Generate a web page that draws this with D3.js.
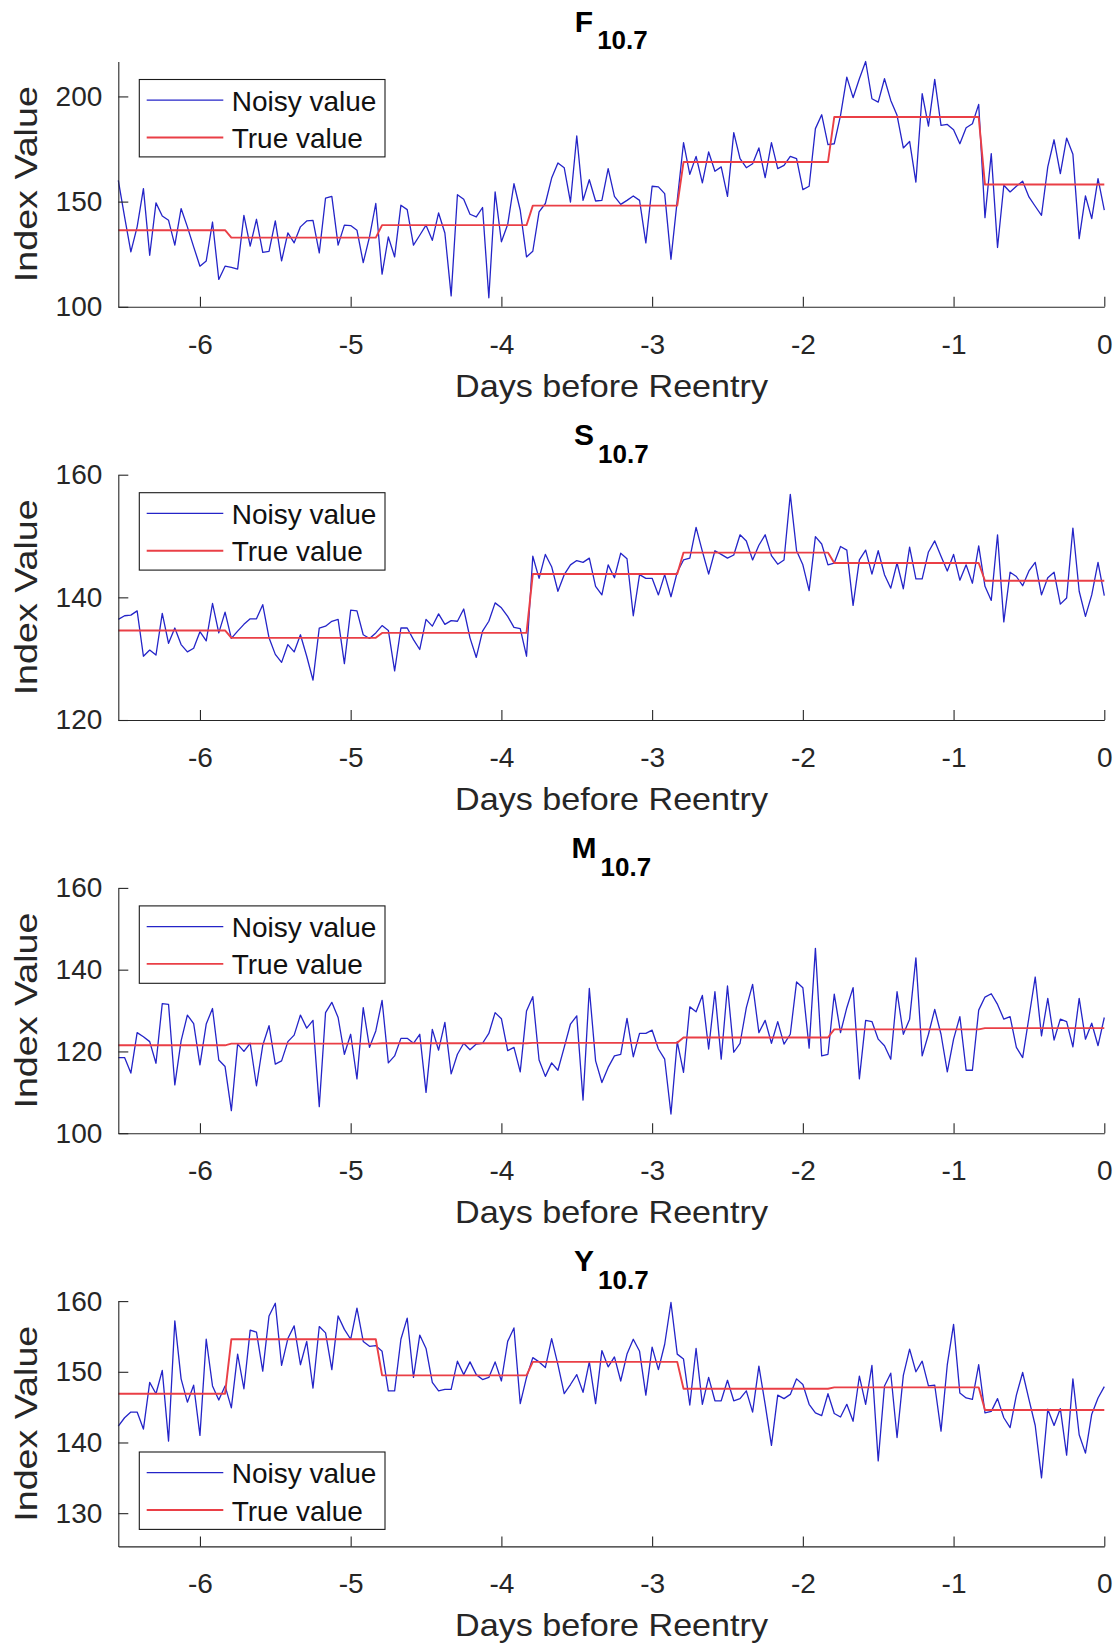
<!DOCTYPE html>
<html><head><meta charset="utf-8">
<script src="https://cdn.jsdelivr.net/npm/d3@7"></script>
<style>
body{margin:0;background:#fff;}
svg text{font-family:"Liberation Sans",Arial,Helvetica,sans-serif;}
</style></head><body>
<svg id="chart" width="1119" height="1646"></svg>
<script>
// hourly samples, hours before reentry
const hoursBeforeReentry = d3.range(-157, 1);

const f107Noisy = [
160.1,142.7,126.1,138.0,156.2,124.5,149.4,143.2,141.1,129.3,
146.7,138.0,128.5,119.3,121.8,140.3,113.0,119.3,118.7,117.9,
143.5,128.8,141.6,125.9,126.3,140.8,121.8,135.1,130.4,138.0,
140.8,141.1,125.6,151.7,152.5,129.3,138.8,138.6,136.4,121.0,
133.2,149.1,115.5,133.2,123.7,148.3,146.2,129.3,134.0,138.8,
131.6,144.6,135.1,105.2,153.3,151.1,144.0,142.7,147.2,104.3,
154.6,130.9,139.1,158.5,145.9,123.7,126.4,145.1,149.1,161.2,
168.4,166.1,149.8,181.2,150.6,160.4,150.3,150.6,165.7,152.5,
148.7,150.6,152.7,150.6,130.4,157.3,157.0,153.8,122.6,150.6,
178.0,163.0,171.5,158.9,173.6,164.4,166.5,152.5,182.8,170.4,
166.1,168.0,175.5,161.4,178.0,165.7,167.2,171.5,170.4,155.7,
157.3,184.7,191.3,177.1,177.5,191.0,209.2,199.4,208.4,216.6,
198.9,197.3,208.4,198.1,191.0,175.5,178.6,159.3,201.3,185.9,
208.1,186.2,186.7,184.2,177.5,185.1,187.0,196.2,142.4,172.8,
128.2,157.8,154.6,157.3,159.7,152.2,147.8,143.5,166.5,179.4,
163.3,180.2,172.5,132.4,152.7,141.9,160.9,146.0];

const s107Noisy = [
136.4,137.0,137.1,137.8,130.4,131.4,130.6,137.4,132.5,135.0,
132.3,131.1,131.7,134.4,132.9,139.0,134.2,137.6,133.3,134.5,
135.6,136.5,136.5,138.8,133.4,130.7,129.4,132.3,131.1,133.9,
130.4,126.5,135.0,135.3,136.1,136.4,129.2,137.9,137.8,133.9,
133.3,134.2,135.4,134.6,128.0,135.0,135.0,133.1,131.5,136.4,
135.3,137.3,135.6,136.2,136.1,138.1,133.4,130.2,134.5,136.1,
139.1,138.3,136.9,135.1,134.9,130.4,146.7,143.1,147.0,145.0,
141.0,143.7,145.3,146.0,145.7,146.4,141.8,140.4,145.3,143.2,
147.2,146.3,137.0,143.7,143.1,143.1,140.4,143.7,140.1,144.1,
146.1,146.4,151.4,147.5,143.8,147.6,147.0,146.4,146.9,150.2,
149.2,146.1,148.5,150.2,146.8,145.4,146.1,156.8,147.6,145.3,
141.1,149.9,148.7,145.3,145.6,148.3,147.7,138.7,146.1,147.7,
143.8,147.6,143.7,141.5,145.6,141.4,148.2,143.0,143.0,147.4,
149.2,146.7,144.3,147.0,142.8,145.3,142.3,148.4,141.8,139.5,
150.2,136.0,144.1,143.4,141.9,144.3,145.7,140.4,143.2,144.1,
138.9,139.9,151.3,141.0,136.9,140.4,145.7,140.3];

const m107Noisy = [
118.5,118.5,114.7,124.6,123.6,122.4,117.1,131.7,131.5,111.8,
122.6,128.9,126.8,116.7,126.7,130.5,117.9,116.3,105.5,121.8,
120.0,122.0,111.6,121.5,126.3,116.9,117.7,122.4,124.0,128.9,
125.7,127.6,106.5,129.5,132.0,128.3,119.3,124.2,113.3,130.7,
121.0,125.0,132.5,117.2,118.9,123.2,123.2,122.0,124.2,110.0,
125.4,120.3,127.1,114.5,119.3,122.0,120.4,121.8,122.0,124.4,
129.5,128.0,120.2,121.0,115.0,129.9,133.4,117.9,113.9,117.2,
115.4,121.0,126.7,128.7,108.1,135.4,117.7,112.4,116.1,118.9,
119.3,128.1,118.7,124.4,124.4,125.2,120.6,118.1,104.7,122.4,
114.9,130.9,129.7,133.7,120.6,134.6,118.1,136.0,119.8,122.0,
130.7,136.4,124.6,127.6,122.0,127.3,121.8,124.2,137.0,135.6,
120.8,145.2,118.9,119.3,134.0,124.6,130.7,135.6,113.3,127.6,
127.3,123.0,121.4,118.1,134.6,124.2,127.9,142.9,118.9,124.2,
130.3,124.2,115.0,123.0,128.5,115.4,115.4,130.1,133.3,134.1,
131.5,127.9,128.5,121.0,118.5,128.3,138.2,123.8,133.0,122.8,
127.9,127.3,121.1,133.0,123.0,126.9,121.4,128.3];

const y107Noisy = [
142.3,143.5,144.3,144.3,141.9,148.5,146.9,150.2,140.2,157.2,
149.0,145.7,148.1,141.0,154.6,148.0,146.0,148.0,144.9,152.5,
147.6,155.9,155.6,150.1,157.9,159.7,150.9,154.7,156.5,151.0,
154.3,147.7,156.4,155.5,150.3,157.9,156.0,154.6,159.0,154.3,
153.6,153.7,152.9,147.3,147.3,154.6,157.6,149.2,155.2,153.3,
148.5,147.3,147.5,147.5,151.5,149.6,151.4,149.6,148.9,149.2,
151.4,148.7,154.3,156.2,145.5,149.2,152.0,151.4,150.6,154.7,
151.0,146.9,148.2,149.6,147.1,151.4,145.5,153.0,150.7,152.1,
148.7,152.5,154.6,152.9,146.7,153.5,150.3,153.9,159.8,152.5,
151.8,145.3,153.3,145.4,149.2,145.9,145.9,148.8,145.9,146.2,
147.3,144.3,150.8,145.4,139.6,146.7,146.2,146.8,149.0,148.2,
145.4,144.2,143.8,146.9,144.1,143.6,145.4,143.0,149.4,145.4,
150.9,137.4,148.0,149.8,140.7,149.5,153.2,150.0,151.5,148.0,
148.1,141.6,151.0,156.7,147.0,146.3,146.1,151.0,144.2,144.4,
146.2,143.5,142.1,146.7,149.9,146.1,142.4,135.0,144.7,142.4,
144.8,138.2,149.0,141.1,138.5,144.0,146.3,147.9];

// true value: constant level per daily segment; first hour of each new level
const segmentStartHours = [-139, -115, -91, -67, -43, -19];
const f107True = [136.4, 132.9, 138.8, 148.1, 168.8, 190.2, 158.1];
const s107True = [134.6, 133.4, 134.2, 143.8, 147.3, 145.6, 142.7];
const m107True = [121.5, 121.9, 122.0, 122.1, 123.4, 125.4, 125.7];
const y107True = [146.9, 154.6, 149.5, 151.4, 147.6, 147.8, 144.6];

const titleLetters = ["F", "S", "M", "Y"];
const titleSubscript = "10.7";
const xTickValues = [-6, -5, -4, -3, -2, -1, 0];
const yTicksF = [100, 150, 200];
const yTicksS = [120, 140, 160];
const yTicksM = [100, 120, 140, 160];
const yTicksY = [130, 140, 150, 160];
const yDomainF = [100, 216.6];
const yDomainS = [120, 160];
const yDomainM = [100, 160];
const yDomainY = [125.3, 160];
const legendLabels = ["Noisy value", "True value"];
const xLabel = "Days before Reentry";
const yLabel = "Index Value";

const panels = [
  {noisy: f107Noisy, levels: f107True, ticks: yTicksF, domain: yDomainF, legendPos: "top"},
  {noisy: s107Noisy, levels: s107True, ticks: yTicksS, domain: yDomainS, legendPos: "top"},
  {noisy: m107Noisy, levels: m107True, ticks: yTicksM, domain: yDomainM, legendPos: "top"},
  {noisy: y107Noisy, levels: y107True, ticks: yTicksY, domain: yDomainY, legendPos: "bottom"}
];

const svg = d3.select("#chart");
const left = 118.3, right = 1104.3;
const panelStep = 413.2, firstTop = 61.5, plotH = 245.3;
const axisColor = "#262626";
const blue = "#2424c8", red = "#ea3f46";

const x = d3.scaleLinear().domain([hoursBeforeReentry[0] / 24, 0]).range([left, right]);

panels.forEach((p, k) => {
  const top = firstTop + panelStep * k;
  const bottom = top + plotH;
  const y = d3.scaleLinear().domain(p.domain).range([bottom, top]);
  const g = svg.append("g");

  const trueSeries = hoursBeforeReentry.map(h => p.levels[d3.bisectRight(segmentStartHours, h)]);
  const line = d3.line().x((d, i) => x(hoursBeforeReentry[i] / 24)).y(d => y(d));

  g.append("path").attr("d", line(p.noisy)).attr("fill", "none")
    .attr("stroke", blue).attr("stroke-width", 1.3).attr("stroke-linejoin", "round");
  g.append("path").attr("d", line(trueSeries)).attr("fill", "none")
    .attr("stroke", red).attr("stroke-width", 1.9).attr("stroke-linejoin", "round");

  // axes
  const ya = g.append("g").attr("transform", `translate(${left},0)`)
    .call(d3.axisLeft(y).tickValues(p.ticks).tickSizeInner(-10).tickSizeOuter(0)
      .tickPadding(16).tickFormat(d => String(d)));
  const xa = g.append("g").attr("transform", `translate(0,${bottom})`)
    .call(d3.axisBottom(x).tickValues(xTickValues).tickSizeInner(-10).tickSizeOuter(0)
      .tickPadding(27).tickFormat(d => String(d)));
  [ya, xa].forEach(a => {
    a.select(".domain").attr("stroke", axisColor).attr("stroke-width", 1.1);
    a.selectAll(".tick line").attr("stroke", axisColor).attr("stroke-width", 1.1);
    a.selectAll(".tick text").attr("fill", axisColor).style("font-size", "28px")
      .style("font-family", '"Liberation Sans",Arial,Helvetica,sans-serif');
  });

  // title
  const t = g.append("text").attr("x", 611.3).attr("y", 31.7 + panelStep * k)
    .attr("text-anchor", "middle").attr("font-weight", "bold").attr("fill", "#000");
  t.append("tspan").attr("font-size", 30).text(titleLetters[k]);
  t.append("tspan").attr("font-size", 26).attr("dx", 4).attr("dy", 17.6).text(titleSubscript);

  // axis labels
  g.append("text").attr("transform", `translate(37,${(top + bottom) / 2}) rotate(-90)`)
    .attr("text-anchor", "middle").attr("font-size", 32).attr("fill", axisColor)
    .attr("textLength", 196).attr("lengthAdjust", "spacingAndGlyphs").text(yLabel);
  g.append("text").attr("x", 611.5).attr("y", bottom + 90)
    .attr("text-anchor", "middle").attr("font-size", 32).attr("fill", axisColor)
    .attr("textLength", 313).attr("lengthAdjust", "spacingAndGlyphs").text(xLabel);

  // legend
  const lt = p.legendPos === "top" ? top + 18 : bottom - 94.4;
  const lg = g.append("g");
  lg.append("rect").attr("x", 139.3).attr("y", lt).attr("width", 245.7).attr("height", 77.4)
    .attr("fill", "#fff").attr("stroke", "#1a1a1a").attr("stroke-width", 1.1);
  [[blue, 1.3], [red, 1.9]].forEach((c, j) => {
    const ly = lt + (j === 0 ? 20.7 : 58);
    lg.append("line").attr("x1", 146.7).attr("x2", 223.3).attr("y1", ly).attr("y2", ly)
      .attr("stroke", c[0]).attr("stroke-width", c[1]);
    lg.append("text").attr("x", 231.7).attr("y", ly + 10.5).attr("font-size", 28)
      .attr("fill", "#111").text(legendLabels[j]);
  });
});
</script>
</body></html>
